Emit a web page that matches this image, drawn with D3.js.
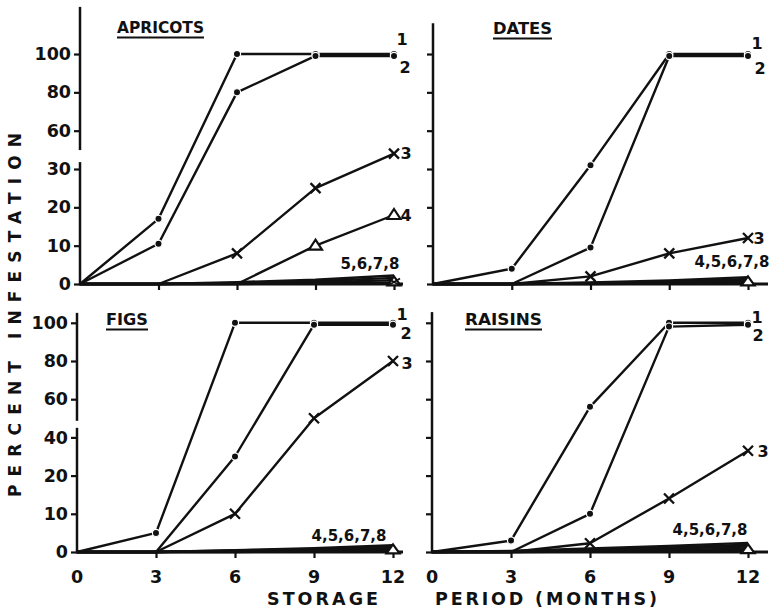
<!DOCTYPE html>
<html><head><meta charset="utf-8">
<script src="https://cdn.jsdelivr.net/npm/d3@7"></script>
<style>
body{margin:0;background:#fff}
svg{display:block}
text{font-family:"DejaVu Sans",sans-serif;font-weight:bold;fill:#111}
</style>
</head><body>
<svg id="c" width="769" height="615"></svg>
<script>
// ---------------- DATA ----------------
const months = [0, 3, 6, 9, 12];
const xTickLabels = ["0", "3", "6", "9", "12"];
const yTicksTop = [0, 10, 20, 30, 60, 80, 100];
const yTicksBottom = [0, 10, 20, 40, 60, 80, 100];
const panelNames = ["APRICOTS", "DATES", "FIGS", "RAISINS"];
const yTitle = "PERCENT INFESTATION";
const xTitle1 = "STORAGE";
const xTitle2 = "PERIOD (MONTHS)";

const apricots1 = [0, 17, 100, 100, 100];
const apricots2 = [0, 10.5, 80, 99, 99];
const apricots3 = [0, 0, 8, 25, 34];
const apricots4 = [0, 0, 0, 10, 18];
const apricots5 = [0, 0, 0.5, 1.1, 2.2];
const apricots6 = [0, 0, 0.3, 0.7, 1.6];
const apricots7 = [0, 0, 0.2, 0.4, 1.0];
const apricots8 = [0, 0, 0, 0.2, 0.4];

const dates1 = [0, 4, 31, 100, 100];
const dates2 = [0, 0, 9.5, 99, 99];
const dates3 = [0, 0, 2, 8, 12];
const dates4 = [0, 0, 0.4, 0.9, 1.8];
const dates5 = [0, 0, 0.3, 0.6, 1.3];
const dates6 = [0, 0, 0.2, 0.4, 0.9];
const dates7 = [0, 0, 0.1, 0.2, 0.6];
const dates8 = [0, 0, 0, 0.1, 0.4];

const figs1 = [0, 5, 100, 100, 100];
const figs2 = [0, 0, 30, 99, 99];
const figs3 = [0, 0, 10, 50, 80];
const figs4 = [0, 0, 0.5, 1.0, 1.8];
const figs5 = [0, 0, 0.4, 0.8, 1.4];
const figs6 = [0, 0, 0.3, 0.6, 1.0];
const figs7 = [0, 0, 0.2, 0.3, 0.7];
const figs8 = [0, 0, 0, 0.1, 0.4];

const raisins1 = [0, 3, 56, 100, 100];
const raisins2 = [0, 0, 10, 98, 99];
const raisins3 = [0, 0, 2.3, 14, 33];
const raisins4 = [0, 0.3, 0.9, 1.6, 2.4];
const raisins5 = [0, 0.2, 0.7, 1.2, 1.9];
const raisins6 = [0, 0.1, 0.5, 0.9, 1.4];
const raisins7 = [0, 0, 0.3, 0.5, 0.9];
const raisins8 = [0, 0, 0.1, 0.2, 0.5];

// ---------------- LAYOUT ----------------
// y scales are broken axes: every labelled tick is equally spaced
const topDomain = [0, 10, 20, 30, 40, 60, 80, 100];
const topSteps  = [0, 1, 2, 3, 4, 4, 5, 6];
const botDomain = [0, 10, 20, 40, 60, 80, 100];
const botSteps  = [0, 1, 2, 3, 4, 5, 6];

const panels = [
  {name: panelNames[0], x0: 80, x12: 394, xEnd: 403, y0: 284, step: 38.33, domain: topDomain, steps: topSteps,
   ticks: yTicksTop, showY: true, showX: false, axisTop: 7.23, brk: [3.18, 3.52],
   title: {x: 117, y: 33, w: 87},
   series: [
     {v: apricots1, m: "dot", lab: "1", dx: 8, dy: -15},
     {v: apricots2, m: "dot", lab: "2", dx: 11, dy: 11},
     {v: apricots3, m: "x", lab: "3", dx: 12, dy: 0},
     {v: apricots4, m: "tri", lab: "4", dx: 12, dy: 0},
     {v: apricots5}, {v: apricots6}, {v: apricots7},
     {v: apricots8, m: "endstar"}],
   bundle: {lab: "5,6,7,8", dx: -24, dy: -20}},
  {name: panelNames[1], x0: 433, x12: 748, xEnd: 768, y0: 284, step: 38.33, domain: topDomain, steps: topSteps,
   ticks: yTicksTop, showY: false, showX: false, axisTop: 6.8, brk: null,
   title: {x: 493, y: 34, w: 59},
   series: [
     {v: dates1, m: "dot", lab: "1", dx: 9, dy: -11},
     {v: dates2, m: "dot", lab: "2", dx: 12, dy: 12},
     {v: dates3, m: "x", lab: "3", dx: 11, dy: 0},
     {v: dates4}, {v: dates5}, {v: dates6}, {v: dates7},
     {v: dates8, m: "endtri"}],
   bundle: {lab: "4,5,6,7,8", dx: -16, dy: -22}},
  {name: panelNames[2], x0: 77, x12: 393, xEnd: 403, y0: 552, step: 38.2, domain: botDomain, steps: botSteps,
   ticks: yTicksBottom, showY: true, showX: true, axisTop: 6.26, brk: [3.25, 3.46],
   title: {x: 106, y: 325, w: 42},
   series: [
     {v: figs1, m: "dot", lab: "1", dx: 9, dy: -9},
     {v: figs2, m: "dot", lab: "2", dx: 13, dy: 9},
     {v: figs3, m: "x", lab: "3", dx: 14, dy: 2},
     {v: figs4}, {v: figs5}, {v: figs6}, {v: figs7},
     {v: figs8, m: "endtri"}],
   bundle: {lab: "4,5,6,7,8", dx: -44, dy: -16}},
  {name: panelNames[3], x0: 432, x12: 748, xEnd: 768, y0: 552, step: 38.2, domain: botDomain, steps: botSteps,
   ticks: yTicksBottom, showY: false, showX: true, axisTop: 6.28, brk: null,
   title: {x: 465, y: 325, w: 77},
   series: [
     {v: raisins1, m: "dot", lab: "1", dx: 9, dy: -6},
     {v: raisins2, m: "dot", lab: "2", dx: 10, dy: 11},
     {v: raisins3, m: "x", lab: "3", dx: 15, dy: 0},
     {v: raisins4}, {v: raisins5}, {v: raisins6}, {v: raisins7},
     {v: raisins8, m: "endtri"}],
   bundle: {lab: "4,5,6,7,8", dx: -38, dy: -22}}
];

const INK = "#111";
const svg = d3.select("#c");

panels.forEach(p => {
  const g = svg.append("g");
  const x = d3.scaleLinear().domain([0, 12]).range([p.x0, p.x12]);
  const y = d3.scaleLinear().domain(p.domain).range(p.steps.map(s => p.y0 - s * p.step));
  const yAt = s => p.y0 - s * p.step;

  // y axis ticks + labels
  const ya = d3.axisLeft(y).tickValues(p.ticks).tickSize(6).tickPadding(3)
    .tickFormat(p.showY ? d3.format("d") : () => "");
  const yg = g.append("g").attr("transform", `translate(${p.x0},0)`).call(ya);
  yg.select(".domain").remove();
  yg.selectAll(".tick line").attr("stroke", INK).attr("stroke-width", 2.2);
  yg.selectAll(".tick text").attr("font-size", 17.5).attr("fill", INK)
    .style("font-family", '"DejaVu Sans",sans-serif').style("font-weight", "bold");

  // y axis line (with break)
  const segs = p.brk ? [[0, p.brk[0]], [p.brk[1], p.axisTop]] : [[0, p.axisTop]];
  segs.forEach(s => g.append("line").attr("x1", p.x0).attr("x2", p.x0)
    .attr("y1", yAt(s[0]) + 1).attr("y2", yAt(s[1]))
    .attr("stroke", INK).attr("stroke-width", 2.5));

  // x axis
  const xa = d3.axisBottom(x).tickValues([3, 6, 9, 12]).tickSize(6).tickFormat(() => "");
  const xg = g.append("g").attr("transform", `translate(0,${p.y0})`).call(xa);
  xg.select(".domain").remove();
  xg.selectAll(".tick line").attr("stroke", INK).attr("stroke-width", 2.2);
  g.append("line").attr("x1", p.x0 - 1).attr("x2", p.xEnd).attr("y1", p.y0).attr("y2", p.y0)
    .attr("stroke", INK).attr("stroke-width", 2.8);
  if (p.showX) {
    g.selectAll(".xl").data(months).enter().append("text")
      .attr("x", d => x(d)).attr("y", p.y0 + 31).attr("text-anchor", "middle")
      .attr("font-size", 17.5).text((d, i) => xTickLabels[i]);
  }

  // title, underlined
  g.append("text").attr("x", p.title.x).attr("y", p.title.y).attr("font-size", 15)
    .attr("textLength", p.title.w).attr("lengthAdjust", "spacingAndGlyphs").text(p.name);
  g.append("line").attr("x1", p.title.x).attr("x2", p.title.x + p.title.w)
    .attr("y1", p.title.y + 4.5).attr("y2", p.title.y + 4.5).attr("stroke", INK).attr("stroke-width", 1.8);

  const line = d3.line().x((d, i) => x(months[i])).y(d => y(d));

  // lines (draw bundle first, then main series)
  p.series.slice().reverse().forEach(s => {
    g.append("path").datum(s.v).attr("d", line).attr("fill", "none")
      .attr("stroke", INK).attr("stroke-width", 2.4).attr("stroke-linejoin", "round");
  });

  // markers
  p.series.forEach(s => {
    const pts = s.v.map((d, i) => [x(months[i]), y(d), d]);
    if (s.m === "dot") {
      g.selectAll(null).data(pts.filter(q => q[2] > 0)).enter().append("circle")
        .attr("cx", q => q[0]).attr("cy", q => q[1]).attr("r", 3.6)
        .attr("fill", INK).attr("stroke", "#fff").attr("stroke-width", 1.2);
    } else if (s.m === "x") {
      g.selectAll(null).data(pts.filter(q => q[2] > 0)).enter().append("path")
        .attr("d", q => `M${q[0]-5},${q[1]-5}L${q[0]+5},${q[1]+5}M${q[0]-5},${q[1]+5}L${q[0]+5},${q[1]-5}`)
        .attr("stroke", INK).attr("stroke-width", 2.3).attr("fill", "none");
    } else if (s.m === "tri") {
      g.selectAll(null).data(pts.filter(q => q[2] > 0)).enter().append("path")
        .attr("d", q => `M${q[0]},${q[1]-6}L${q[0]+6.5},${q[1]+4}L${q[0]-6.5},${q[1]+4}Z`)
        .attr("stroke", INK).attr("stroke-width", 2.2).attr("fill", "#fff");
    } else if (s.m === "endtri" || s.m === "endstar") {
      const q = pts[pts.length - 1];
      g.append("path")
        .attr("d", `M${q[0]},${q[1]-6}L${q[0]+6.5},${q[1]+3}L${q[0]-6.5},${q[1]+3}Z`)
        .attr("stroke", INK).attr("stroke-width", 2.2).attr("fill", "#fff");
      if (s.m === "endstar") {
        g.append("path")
          .attr("d", `M${q[0]-6},${q[1]-4}L${q[0]+6},${q[1]+3}M${q[0]-6},${q[1]+3}L${q[0]+6},${q[1]-4}`)
          .attr("stroke", INK).attr("stroke-width", 1.8);
      }
    }
    if (s.lab) {
      const last = s.v[s.v.length - 1];
      g.append("text").attr("x", x(12) + s.dx).attr("y", y(last) + s.dy)
        .attr("dy", "0.36em").attr("text-anchor", "middle").attr("font-size", 16).text(s.lab);
    }
  });

  // bundle label
  g.append("text").attr("x", x(12) + p.bundle.dx).attr("y", p.y0 + p.bundle.dy)
    .attr("dy", "0.36em").attr("text-anchor", "middle").attr("font-size", 15).text(p.bundle.lab);
});

// axis titles
svg.append("text").attr("transform", "translate(21,315) rotate(-90)")
  .attr("text-anchor", "middle").attr("font-size", 17)
  .attr("textLength", 364).attr("lengthAdjust", "spacing").text(yTitle);
svg.append("text").attr("x", 267).attr("y", 605).attr("font-size", 17.5)
  .attr("textLength", 111).attr("lengthAdjust", "spacing").text(xTitle1);
svg.append("text").attr("x", 435).attr("y", 605).attr("font-size", 17.5)
  .attr("textLength", 222).attr("lengthAdjust", "spacing").text(xTitle2);
</script>
</body></html>
